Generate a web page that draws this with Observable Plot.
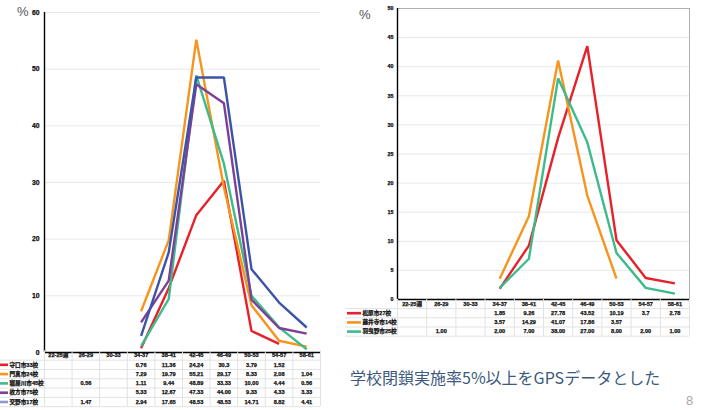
<!DOCTYPE html>
<html><head><meta charset="utf-8">
<script src="https://cdn.jsdelivr.net/npm/d3@7"></script>
<script src="https://cdn.jsdelivr.net/npm/@observablehq/plot@0.6"></script>
<style>
body{margin:0;background:#fff;}
#root{position:relative;width:701px;height:410px;overflow:hidden;font-family:"Liberation Sans",Arial,sans-serif;}
.pct{font-size:13px;color:#555;line-height:13px;}
#root svg text{stroke:#111;stroke-width:0.25px;}
</style></head><body><div id="root"></div>
<script>
// ---- shared categories (4-week bins) ----
const weeks = ["22-25週","26-29","30-33","34-37","38-41","42-45","46-49","50-53","54-57","58-61"];

// ---- left chart series ----
const leftNames  = ["守口市33校","門真市24校","寝屋川市45校","枚方市75校","交野市17校"];
const leftColors = ["#e8202a","#f7941d","#3dbb8b","#7d3f98","#3b55a6"];
const leftSwatch = ["#e8202a","#f7941d","#3dbb8b","#7d3f98","#8d9ad0"];
const leftFixed  = [false,false,true,true,true];
const moriguchi = [null,null,null,0.76,11.36,24.24,30.3,3.79,1.52,null];
const kadoma    = [null,null,null,7.29,19.79,55.21,29.17,8.33,2.08,1.04];
const neyagawa  = [null,0.56,null,1.11,9.44,48.89,33.33,10.00,4.44,0.56];
const hirakata  = [null,null,null,5.33,12.67,47.33,44.00,9.33,4.33,3.33];
const katano    = [null,1.47,null,2.94,17.65,48.53,48.53,14.71,8.82,4.41];
const leftSeries = [moriguchi,kadoma,neyagawa,hirakata,katano];
const leftTicks = [0,10,20,30,40,50,60];

// ---- right chart series ----
const rightNames  = ["松原市27校","藤井寺市14校","羽曳野市25校"];
const rightColors = ["#e8202a","#f7941d","#3dbb8b"];
const rightFixed  = [false,false,true];
const matsubara = [null,null,null,1.85,9.26,27.78,43.52,10.19,3.7,2.78];
const fujiidera = [null,null,null,3.57,14.29,41.07,17.86,3.57,null,null];
const habikino  = [null,1.00,null,2.00,7.00,38.00,27.00,8.00,2.00,1.00];
const rightSeries = [matsubara,fujiidera,habikino];
const rightTicks = [0,5,10,15,20,25,30,35,40,45,50];

const FONT = "'Liberation Sans','Noto Sans CJK JP',Arial,sans-serif";
const root = document.getElementById("root");

function place(el, left, top){
  el.style.position = "absolute"; el.style.left = left+"px"; el.style.top = top+"px";
  root.appendChild(el);
}

function toRows(names, series){
  const rows = [];
  series.forEach((s, k) => s.forEach((v, i) => rows.push({name: names[k], row: k, i, v})));
  return rows;
}

function linePlot(o){
  const rows = toRows(o.names, o.series);
  const yMax = o.ticks[o.ticks.length-1];
  const marks = [
    Plot.ruleY(o.ticks.filter(t => t > 0 && (o.boxed ? t < yMax : true)), {stroke:"#e8e8e8", strokeWidth:1}),
  ];
  if (o.boxed){
    marks.push(Plot.ruleY([yMax], {stroke:"#b0b0b0", strokeWidth:1}));
    marks.push(Plot.ruleX([weeks.length], {stroke:"#b0b0b0", strokeWidth:1}));
  }
  marks.push(Plot.line(rows, {x: d => d.i + 0.5, y: "v", z: "name", stroke: "name",
    strokeWidth: 2.4, strokeLinecap: "butt", strokeLinejoin: "miter"}));
  marks.push(Plot.ruleX([0], {stroke:"#000", strokeWidth:1.4}));
  marks.push(Plot.ruleY([0], {stroke:"#000", strokeWidth:1.4}));
  return Plot.plot({
    width: o.width, height: o.height,
    marginLeft: o.ml, marginRight: o.mr, marginTop: o.mt, marginBottom: 1,
    x: {domain: [0, weeks.length], axis: null},
    y: {domain: [0, yMax], ticks: o.ticks, tickSize: 0, tickPadding: o.tp, label: null},
    color: {domain: o.names, range: o.colors},
    style: {fontFamily: FONT, fontSize: o.tickFont, fontWeight: "bold", color: "#111", background: "transparent", overflow: "visible"},
    marks
  });
}

function tablePlot(o){
  const colW = (o.width - o.ml - o.mr) / weeks.length;
  const L = o.ml / colW;
  const nRows = o.names.length + 1;
  const cells = toRows(o.names, o.series).filter(d => d.v != null);
  const fmt = d => o.fixed[d.row] ? d.v.toFixed(2) : String(d.v);
  const swW = o.swatchW / colW, swX = o.swatchX / colW;
  return Plot.plot({
    width: o.width, height: o.height,
    marginLeft: 0, marginRight: o.mr, marginTop: 0, marginBottom: 0,
    x: {domain: [-L, weeks.length], axis: null},
    y: {domain: [-0.5, nRows - 0.5], range: [o.y0 - o.pitch/2, o.y0 + (nRows - 0.5) * o.pitch], axis: null},
    color: {domain: o.names, range: o.swatch},
    style: {fontFamily: FONT, background: "transparent", overflow: "visible", color: "#111"},
    marks: [
      Plot.ruleY(d3.range(0.5, nRows, 1), {stroke: "#e2e2e2", strokeWidth: 1}),
      Plot.ruleX(d3.range(0, weeks.length + 1), {y1: -0.5, y2: nRows - 0.5, stroke: "#e2e2e2", strokeWidth: 1}),
      Plot.text(weeks, {x: (d, i) => i + 0.5, y: 0, text: d => d, fontSize: o.font, fontWeight: "bold", fill: "#111"}),
      Plot.ruleY(o.names, {y: (d, i) => i + 1, x1: -L + swX, x2: -L + swX + swW, stroke: d => d, strokeWidth: 2.6}),
      Plot.text(o.names, {y: (d, i) => i + 1, x: -L + swX + swW, dx: 1, text: d => d, textAnchor: "start", fontSize: o.font, fontWeight: "bold", fill: "#111"}),
      Plot.text(cells, {x: d => d.i + 0.5, y: d => d.row + 1, text: fmt, fontSize: o.font, fontWeight: "bold", fill: "#111"})
    ]
  });
}

// ---- Left chart ----
place(linePlot({width: 330, height: 353, ml: 44, mr: 10, mt: 12, tp: 5, tickFont: "6.8px",
  ticks: leftTicks, names: leftNames, colors: leftColors, series: leftSeries, boxed: false}), 0, 0);
place(tablePlot({width: 330, height: 58, ml: 44, mr: 10, y0: 3, pitch: 9.3, font: 5.6,
  swatchX: 0, swatchW: 8, names: leftNames, swatch: leftSwatch, series: leftSeries, fixed: leftFixed}), 0, 352);

// ---- Right chart ----
place(linePlot({width: 356, height: 300, ml: 52, mr: 12, mt: 8, tp: 4, tickFont: "5.4px",
  ticks: rightTicks, names: rightNames, colors: rightColors, series: rightSeries, boxed: true}), 345, 0);
place(tablePlot({width: 356, height: 40, ml: 52, mr: 12, y0: 4.5, pitch: 9.2, font: 5.6,
  swatchX: 2, swatchW: 14, names: rightNames, swatch: rightColors, series: rightSeries, fixed: rightFixed}), 345, 299);

// ---- Text ----
const p1 = document.createElement("div"); p1.className = "pct"; p1.textContent = "%"; place(p1, 17, 5);
const p2 = document.createElement("div"); p2.className = "pct"; p2.textContent = "%"; place(p2, 359, 8);
const cap = document.createElement("div");
cap.textContent = "学校閉鎖実施率5%以上をGPSデータとした";
cap.style.cssText = "font-family:'Noto Sans CJK JP',sans-serif;font-size:16px;line-height:16px;color:#3b5a7d;white-space:nowrap;";
place(cap, 350, 369);
const pg = document.createElement("div");
pg.textContent = "8";
pg.style.cssText = "font-family:'Liberation Sans',Arial,sans-serif;font-size:13px;line-height:13px;color:#a8a8a8;";
place(pg, 686, 394);
</script>
</body></html>
